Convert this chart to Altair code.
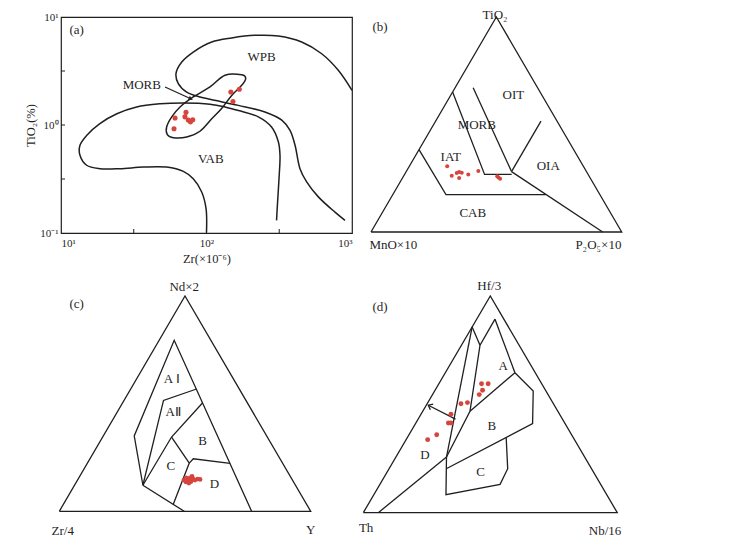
import altair as alt
import pandas as pd

FONT = "Liberation Serif"
INK = "#1f1f1f"
RED = "#d6453d"

# ---------------- (a) Zr - TiO2 diagram (log-log) ----------------
VAB_ZR = [100, 99.3, 92.7, 81.1, 69.3, 53.2, 36.8, 25.4, 18.5, 15.0, 13.5, 13.5, 15.0, 18.5,
          24.2, 33.1, 47.9, 69.3, 105.7, 134, 166, 227, 280, 312, 320, 315, 307, 303]
VAB_TI = [0.101, 0.168, 0.24, 0.318, 0.372, 0.408, 0.408, 0.394, 0.394, 0.424, 0.524, 0.649, 0.80, 1.03,
          1.27, 1.47, 1.57, 1.60, 1.56, 1.47, 1.36, 1.19, 0.958, 0.696, 0.524, 0.318, 0.180, 0.131]
WPB_ZR = [1000, 805, 619, 451, 312, 215, 149, 108.6, 81.1, 67.6, 61.7, 64.0, 73.1, 90.2, 105.7,
          165.6, 252, 329, 375, 406, 439, 488, 587, 764, 895]
WPB_TI = [2.09, 3.21, 4.57, 5.87, 6.67, 6.76, 6.40, 5.87, 4.74, 3.83, 2.99, 2.42, 2.02, 1.82, 1.73,
          1.52, 1.32, 1.11, 0.893, 0.649, 0.394, 0.297, 0.216, 0.156, 0.131]
MORB_ZR = [53.2, 57.7, 65.8, 81.1, 105.7, 134, 174.6, 186, 174.6, 149, 127, 108.6, 90.2, 73.1, 59.2, 53.8]
MORB_TI = [0.958, 1.19, 1.47, 1.82, 2.25, 2.89, 2.92, 2.69, 2.33, 1.88, 1.42, 1.14, 0.875, 0.774, 0.762, 0.813]
ARROW_ZR = [51.9, 80.0]
ARROW_TI = [2.25, 1.72]
A_ZR = [60.8, 59.8, 72.3, 71.1, 75.0, 80.4, 77.6, 147, 168, 152]
A_TI = [1.16, 0.924, 1.31, 1.19, 1.11, 1.12, 1.07, 2.02, 2.14, 1.65]
A_LABELS = [("(a)", 12.8, 7.5), ("WPB", 239, 4.26), ("MORB", 35.9, 2.33), ("VAB", 107, 0.488)]
A_XTICKS = [31.62, 100, 316.2]
A_YTICKS = [0.3162, 1, 3.162]

# ---------------- (b) TiO2 - MnO*10 - P2O5*10  (top %, right %) ----------------
B_FRAME = [(0, 0), (0, 100), (100, 0), (0, 0)]
B_IAT_CAB = [(38.3, 0), (17.4, 21.2), (17.4, 61.0)]
B_MORB_IAT = [(65.1, 0), (26.8, 31.9), (26.8, 42.7)]
B_OIT_MORB = [(67.1, 7.2), (28.1, 42.0)]
B_OIA_OIT = [(51.6, 42.0), (28.1, 42.0)]
B_OIA_CAB = [(28.1, 42.0), (0, 92.4)]
B_TIO2 = [30.6, 26.2, 27.4, 27.9, 27.6, 25.1, 26.8, 28.4, 25.9, 24.8, 25.3]
B_P2O5 = [15.1, 19.1, 20.5, 21.2, 22.4, 22.6, 25.4, 28.6, 37.4, 39.1, 38.2]
B_LABELS = [("TiO₂", 0.495, 1.01), ("(b)", 0.036, 0.953), ("OIT", 0.568, 0.639),
            ("MORB", 0.422, 0.496), ("IAT", 0.318, 0.349), ("OIA", 0.707, 0.307),
            ("CAB", 0.406, 0.088), ("MnO×10", 0.089, -0.059), ("P₂O₅×10", 0.907, -0.059)]

# ---------------- (c) Nd*2 - Zr/4 - Y ----------------
C_FRAME = [(0, 0), (0, 100), (100, 0), (0, 0)]
C_OUTER = [(12.1, 27.2), (35.0, 12.3), (79.4, 6.0), (0, 76.5)]
C_BASE = [(12.1, 27.2), (0, 49.7)]
C_AII = [(12.1, 27.2), (51.5, 15.7), (56.8, 26.2)]
C_C = [(12.1, 27.2), (34.5, 27.4), (50.3, 31.8)]
C_CD = [(34.5, 27.4), (22.4, 40.5), (3.2, 43.7)]
C_BD = [(22.4, 40.5), (24.4, 41.1), (22.3, 56.8)]
C_ND = [14.5, 15.5, 14.1, 15.5, 13.8, 15.0, 14.5, 15.0, 14.8, 13.1, 16.2, 13.6]
C_Y = [42.3, 42.7, 44.2, 44.3, 45.5, 45.7, 46.7, 47.5, 48.6, 45.0, 44.7, 43.6]
C_LABELS = [("A Ⅰ", 0.447, 0.616), ("AⅡ", 0.453, 0.461), ("B", 0.570, 0.325), ("C", 0.444, 0.209),
            ("D", 0.617, 0.125), ("Nd×2", 0.497, 1.042), ("(c)", 0.069, 0.961),
            ("Zr/4", 0.0135, -0.093), ("Y", 1.0, -0.088)]

# ---------------- (d) Hf/3 - Th - Nb/16 ----------------
D_FRAME = [(0, 0), (0, 100), (100, 0), (0, 0)]
D_LE_S1 = [(85.7, 0), (77.3, 7.3)]
D_LE_K = [(85.7, 0), (25.7, 19.9)]
D_A_LEFT = [(89.3, 7.2), (77.3, 7.3), (46.8, 18.6), (25.7, 19.9)]
D_A_RIGHT = [(89.3, 7.2), (64.6, 27.4)]
D_AB = [(64.6, 27.4), (46.8, 18.6)]
D_B = [(64.6, 27.4), (56.2, 38.8), (41.1, 46.1), (20.3, 22.5)]
D_C = [(34.7, 38.9), (20.3, 46.7), (13.1, 47.3), (8.3, 28.4), (25.7, 19.9)]
D_D = [(25.7, 19.9), (0, 5.9)]
D_ARROW = [(43.2, 14.7), (49.6, 0.8)]
D_HF = [59.5, 59.5, 56.5, 54.5, 50.3, 50.8, 45.4, 41.4, 41.4, 36.0, 33.7]
D_NB = [16.8, 19.4, 18.7, 18.4, 13.3, 15.6, 11.8, 12.8, 13.8, 10.9, 8.5]
D_LABELS = [("A", 0.551, 0.677), ("B", 0.506, 0.400), ("C", 0.462, 0.188), ("D", 0.243, 0.265),
            ("Hf/3", 0.496, 1.046), ("(d)", 0.066, 0.949), ("Th", 0.011, -0.071),
            ("Nb/16", 0.952, -0.086)]

# ---------------- layout (page pixels) ----------------
A_LEFT, A_TOP = 61, 15
COL1_W, COL2_W = 291, 371
ROW1_H, ROW2_H = 216, 245
HS, VS = 0, 39
B_LEFT, B_TOP = A_LEFT + COL1_W + HS, A_TOP
C_LEFT, C_TOP = A_LEFT, A_TOP + ROW1_H + VS
D_LEFT, D_TOP = B_LEFT, C_TOP
TRI_B = (371.0, 621.7, 230.0, 15.0)
TRI_C = (59.3, 310.7, 509.3, 294.0)
TRI_D = (363.3, 617.3, 510.7, 294.0)


def tern_domains(left, top, w, h, tri):
    lx, rx, base, apex = tri
    ux, uy = rx - lx, base - apex
    x0 = (left - lx) / ux
    y1 = (base - top) / uy
    return [x0, x0 + w / ux], [y1 - h / uy, y1]


def to_xy(t, r):
    return r / 100 + t / 200, t / 100


def tern_panel(lines, p_top, p_right, labels, doms, w, h, size, extra=()):
    xs = alt.Scale(domain=doms[0], nice=False, zero=False)
    ys = alt.Scale(domain=doms[1], nice=False, zero=False)
    X = alt.X("x:Q", scale=xs, axis=None)
    Y = alt.Y("y:Q", scale=ys, axis=None)
    rows = []
    for name, seg in lines:
        for i, (t, r) in enumerate(seg):
            x, y = to_xy(t, r)
            rows.append({"seg": name, "i": i, "x": x, "y": y})
    line = alt.Chart(pd.DataFrame(rows)).mark_line(color=INK, strokeWidth=1.3).encode(
        x=X, y=Y, detail="seg:N", order="i:Q")
    pts = [to_xy(t, r) for t, r in zip(p_top, p_right)]
    pdf = pd.DataFrame({"x": [p[0] for p in pts], "y": [p[1] for p in pts]})
    dots = alt.Chart(pdf).mark_circle(color=RED, size=size, opacity=1).encode(x=X, y=Y)
    tdf = pd.DataFrame(labels, columns=["label", "x", "y"])
    txt = alt.Chart(tdf).mark_text(font=FONT, fontSize=13, color=INK).encode(x=X, y=Y, text="label:N")
    layers = [line, dots, txt]
    for df, mark in extra:
        layers.append(alt.Chart(df).mark_point(**mark).encode(x=X, y=Y))
    return alt.layer(*layers).properties(width=w, height=h)


# ---------------- panel (a) ----------------
XA = alt.X("zr:Q", scale=alt.Scale(type="log", domain=[10, 1000], nice=False),
           axis=alt.Axis(values=[10, 100, 1000], title="Zr(×10⁻⁶)",
                         labelExpr="datum.value < 50 ? '10¹' : datum.value < 500 ? '10²' : '10³'",
                         ticks=False, domain=False, grid=False, labelFlush=True,
                         labelFont=FONT, labelFontSize=11, labelColor=INK, labelPadding=4,
                         titleFont=FONT, titleFontSize=12.5, titleFontWeight="normal",
                         titleColor=INK, titlePadding=4))
YA = alt.Y("ti:Q", scale=alt.Scale(type="log", domain=[0.1, 10], nice=False),
           axis=alt.Axis(values=[0.1, 1, 10], title="TiO₂(%)",
                         labelExpr="datum.value < 0.5 ? '10⁻¹' : datum.value < 5 ? '10⁰' : '10¹'",
                         ticks=False, domain=False, grid=False,
                         labelFont=FONT, labelFontSize=11, labelColor=INK, labelPadding=3,
                         titleFont=FONT, titleFontSize=12.5, titleFontWeight="normal",
                         titleColor=INK, titlePadding=2))


def curve(name, xs, ys):
    return pd.DataFrame({"curve": name, "i": list(range(len(xs))), "zr": xs, "ti": ys})


open_curves = pd.concat([curve("VAB", VAB_ZR, VAB_TI), curve("WPB", WPB_ZR, WPB_TI)])
a_open = alt.Chart(open_curves).mark_line(color=INK, strokeWidth=1.5, interpolate="catmull-rom").encode(
    x=XA, y=YA, detail="curve:N", order="i:Q")
a_morb = alt.Chart(curve("MORB", MORB_ZR, MORB_TI)).mark_line(
    color=INK, strokeWidth=1.5, interpolate="cardinal-closed").encode(x=XA, y=YA, order="i:Q")
a_arrow = alt.Chart(curve("arrow", ARROW_ZR, ARROW_TI)).mark_line(color=INK, strokeWidth=1.2).encode(
    x=XA, y=YA, order="i:Q")
a_head = alt.Chart(pd.DataFrame({"zr": ARROW_ZR[-1:], "ti": ARROW_TI[-1:]})).mark_point(
    shape="M0,0L-1,-0.6L-1,0.6Z", filled=True, size=60, angle=25, color=INK, opacity=1).encode(x=XA, y=YA)
a_dots = alt.Chart(pd.DataFrame({"zr": A_ZR, "ti": A_TI})).mark_circle(
    color=RED, size=26, opacity=1).encode(x=XA, y=YA)
a_text = alt.Chart(pd.DataFrame(A_LABELS, columns=["label", "zr", "ti"])).mark_text(
    font=FONT, fontSize=13, color=INK).encode(x=XA, y=YA, text="label:N")
a_xt = alt.Chart(pd.DataFrame({"zr": A_XTICKS})).mark_rule(color=INK, strokeWidth=1).encode(
    x=XA, y=alt.value(ROW1_H), y2=alt.value(ROW1_H - 4))
a_yt = alt.Chart(pd.DataFrame({"ti": A_YTICKS})).mark_rule(color=INK, strokeWidth=1).encode(
    y=YA, x=alt.value(0), x2=alt.value(4))
panel_a = alt.layer(a_open, a_morb, a_arrow, a_head, a_dots, a_text, a_xt, a_yt).properties(
    width=COL1_W, height=ROW1_H, view=alt.ViewBackground(stroke=INK, strokeWidth=1.2))

# ---------------- ternary panels ----------------
panel_b = tern_panel(
    [("frame", B_FRAME), ("iat_cab", B_IAT_CAB), ("morb_iat", B_MORB_IAT), ("oit_morb", B_OIT_MORB),
     ("oia_oit", B_OIA_OIT), ("oia_cab", B_OIA_CAB)],
    B_TIO2, B_P2O5, B_LABELS, tern_domains(B_LEFT, B_TOP, COL2_W, ROW1_H, TRI_B), COL2_W, ROW1_H, 16)

panel_c = tern_panel(
    [("frame", C_FRAME), ("outer", C_OUTER), ("base", C_BASE), ("aii", C_AII), ("c", C_C),
     ("cd", C_CD), ("bd", C_BD)],
    C_ND, C_Y, C_LABELS, tern_domains(C_LEFT, C_TOP, COL1_W, ROW2_H, TRI_C), COL1_W, ROW2_H, 22)

arrow_end = to_xy(*D_ARROW[-1])
head_df = pd.DataFrame({"x": [arrow_end[0]], "y": [arrow_end[1]]})
panel_d = tern_panel(
    [("frame", D_FRAME), ("le_s1", D_LE_S1), ("le_k", D_LE_K), ("a_left", D_A_LEFT),
     ("a_right", D_A_RIGHT), ("ab", D_AB), ("b", D_B), ("c", D_C), ("d", D_D), ("arrow", D_ARROW)],
    D_HF, D_NB, D_LABELS, tern_domains(D_LEFT, D_TOP, COL2_W, ROW2_H, TRI_D), COL2_W, ROW2_H, 24,
    extra=[(head_df, dict(shape="M-1,-0.8L0,0L-1,0.8", filled=False, size=60, angle=207,
                          color=INK, strokeWidth=1.3, opacity=1))])

chart = alt.concat(panel_a, panel_b, panel_c, panel_d, columns=2,
                   spacing={"row": VS, "column": HS}, bounds="flush").properties(
    padding={"left": 16, "top": 0, "right": 0, "bottom": 0},
    background="white",
).configure_view(strokeWidth=0)

chart.save("out.html", embed_options={"renderer": "svg", "actions": False})
